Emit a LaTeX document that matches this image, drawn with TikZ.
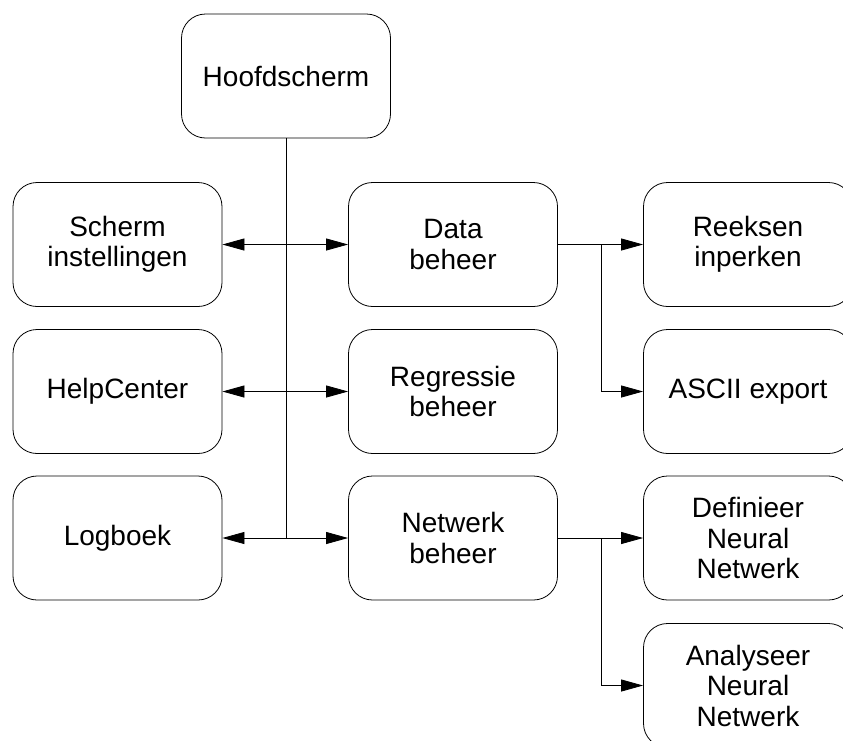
\documentclass[tikz,border=0pt]{standalone}
\usepackage{fontspec}
\setmainfont{Liberation Sans}
\usetikzlibrary{arrows.meta}
\tikzset{
  box/.style={draw, line width=0.8pt, rounded corners=24pt, minimum width=209pt, minimum height=124pt, inner sep=0pt, align=center, font=\fontsize{28}{30.5}\selectfont},
  conn/.style={line width=0.8pt},
  arr/.style={conn, -{Triangle[length=22pt,width=12pt]}}
}
\begin{document}
\begin{tikzpicture}[x=1pt,y=-1pt]
\useasboundingbox (0,0) rectangle (843,740);
\clip (0,0) rectangle (843,740);
\node[box] (hoofd) at (286,76) {Hoofdscherm};
\node[box] (scherm) at (117.5,244.5) {Scherm\\instellingen};
\node[box] (data) at (453,244.5) {Data\\beheer};
\node[box] (reeks) at (748,244.5) {Reeksen\\inperken};
\node[box] (help) at (117.5,391.5) {HelpCenter};
\node[box] (regr) at (453,391.5) {Regressie\\beheer};
\node[box] (ascii) at (748,391.5) {ASCII export};
\node[box] (log) at (117.5,538) {Logboek};
\node[box] (netw) at (453,538) {Netwerk\\beheer};
\node[box] (defn) at (748,538) {Definieer\\Neural\\Netwerk};
\node[box] (anal) at (748,685.5) {Analyseer\\Neural\\Netwerk};
\coordinate (j1) at (hoofd.south |- data.west);
\coordinate (j2) at (hoofd.south |- regr.west);
\coordinate (j3) at (hoofd.south |- netw.west);
\draw[conn] (hoofd.south) -- (j3);
\draw[arr] (j1) -- (scherm.east);
\draw[arr] (j1) -- (data.west);
\draw[arr] (j2) -- (help.east);
\draw[arr] (j2) -- (regr.west);
\draw[arr] (j3) -- (log.east);
\draw[arr] (j3) -- (netw.west);
\coordinate (b1) at (601,244.5);
\coordinate (b2) at (601,538);
\draw[conn] (data.east) -- (b1);
\draw[arr] (b1) -- (reeks.west);
\draw[arr] (b1) |- (ascii.west);
\draw[conn] (netw.east) -- (b2);
\draw[arr] (b2) -- (defn.west);
\draw[arr] (b2) |- (anal.west);
\end{tikzpicture}
\end{document}
